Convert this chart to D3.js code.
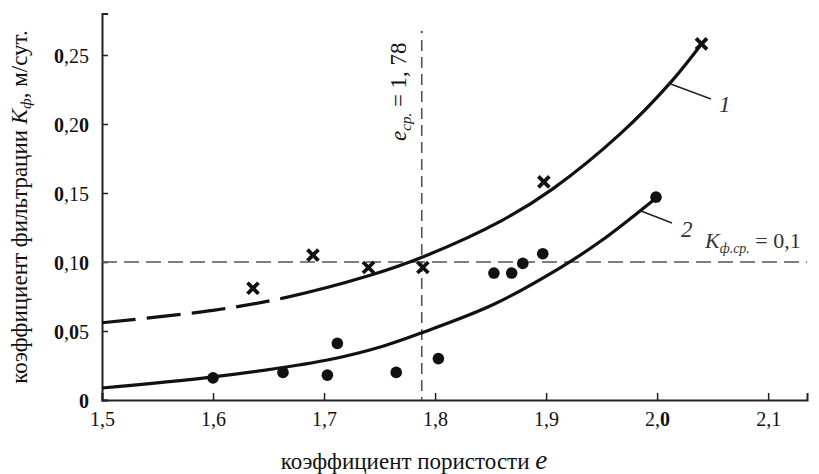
<!DOCTYPE html>
<html>
<head>
  <meta charset="utf-8">
</head>
<body style="margin:0; background:#fff">
  <svg width="819" height="474"></svg>
  <script src="https://cdn.jsdelivr.net/npm/d3@7"></script>
  <script>

  // tick values
  var xTicks = [1.5, 1.6, 1.7, 1.8, 1.9, 2.0, 2.1];
  var yTicks = [0, 0.05, 0.10, 0.15, 0.20, 0.25];

  // measured points, series 1 (crosses)
  var crossE = [1.636, 1.690, 1.740, 1.789, 1.898, 2.040];
  var crossK = [0.081, 0.105, 0.096, 0.096, 0.158, 0.258];

  // measured points, series 2 (dots)
  var dotE = [1.600, 1.663, 1.703, 1.712, 1.765, 1.803, 1.853, 1.869, 1.879, 1.897, 1.999];
  var dotK = [0.016, 0.020, 0.018, 0.041, 0.020, 0.030, 0.092, 0.092, 0.099, 0.106, 0.147];

  // fitted curves
  var fit1E = [1.50, 1.60, 1.664, 1.74, 1.79, 1.86, 1.906, 1.967, 2.012, 2.040];
  var fit1K = [0.056, 0.065, 0.074, 0.090, 0.104, 0.130, 0.153, 0.193, 0.230, 0.258];
  var fit1DashEnd = 1.664;

  var fit2E = [1.50, 1.60, 1.703, 1.753, 1.789, 1.852, 1.913, 1.949, 2.000];
  var fit2K = [0.0087, 0.0167, 0.029, 0.039, 0.049, 0.069, 0.096, 0.115, 0.147];

  var eMean = 1.788;   // e ср. = 1,78
  var kMean = 0.10;    // K ф.ср. = 0,1

  var FONT = "Liberation Serif";
  var svg = d3.select("svg");

  var x = d3.scaleLinear().domain([1.5, 2.135]).range([102, 807]);
  var y = d3.scaleLinear().domain([0, 0.28]).range([400, 13.6]);

  var fmt = function(v) { return d3.format(".2f")(v).replace(".", ","); };

  // axes
  var gx = svg.append("g").attr("transform", "translate(0,400)")
    .call(d3.axisBottom(x).tickValues(xTicks).tickSize(-7).tickPadding(12)
      .tickFormat(function(d) { return d3.format(".1f")(d).replace(".", ","); }));
  var gy = svg.append("g").attr("transform", "translate(102,0)")
    .call(d3.axisLeft(y).tickValues(yTicks).tickSize(-6).tickPadding(13)
      .tickFormat(function(d) { return d === 0 ? "0" : fmt(d); }));

  [gx, gy].forEach(function(g) {
    g.attr("font-family", FONT).attr("font-size", 20);
    g.select(".domain").attr("stroke", "#222").attr("stroke-width", 2);
    g.selectAll(".tick line").attr("stroke", "#222").attr("stroke-width", 1.5);
    g.selectAll(".tick text")
      .attr("fill", "#111")
      .each(function() {
        // zeros in the scanned labels appear as heavy black glyphs
        var t = d3.select(this), s = t.text();
        t.text(null);
        s.split("").forEach(function(ch) {
          t.append("tspan").text(ch).attr("font-weight", ch === "0" ? "bold" : "normal");
        });
      });
  });
  gy.selectAll(".tick text").attr("dy", "0.36em");

  // guide lines
  svg.append("line")
    .attr("x1", x(1.5)).attr("x2", x(2.135))
    .attr("y1", y(kMean)).attr("y2", y(kMean))
    .attr("stroke", "#555").attr("stroke-width", 1.6).attr("stroke-dasharray", "15,7");
  svg.append("line")
    .attr("x1", x(eMean)).attr("x2", x(eMean))
    .attr("y1", 40).attr("y2", 400)
    .attr("stroke", "#555").attr("stroke-width", 1.6).attr("stroke-dasharray", "11,6");
  svg.append("circle").attr("cx", x(eMean)).attr("cy", 32).attr("r", 1.2).attr("fill", "#555");

  // fitted curves
  var line = d3.line()
    .curve(d3.curveCatmullRom.alpha(0.5))
    .x(function(d) { return x(d[0]); })
    .y(function(d) { return y(d[1]); });

  var fit1 = d3.zip(fit1E, fit1K);
  var fit2 = d3.zip(fit2E, fit2K);

  var defs = svg.append("defs");
  defs.append("clipPath").attr("id", "clipL").append("rect")
    .attr("x", 0).attr("y", 0).attr("width", x(fit1DashEnd)).attr("height", 474);
  defs.append("clipPath").attr("id", "clipR").append("rect")
    .attr("x", x(fit1DashEnd)).attr("y", 0).attr("width", 819).attr("height", 474);

  function fitPath(data) {
    return svg.append("path").attr("d", line(data))
      .attr("fill", "none").attr("stroke", "#111").attr("stroke-width", 3.2);
  }
  fitPath(fit1).attr("clip-path", "url(#clipL)").attr("stroke-dasharray", "34,11");
  fitPath(fit1).attr("clip-path", "url(#clipR)");
  fitPath(fit2);

  // markers
  svg.selectAll(".cross").data(d3.zip(crossE, crossK)).enter().append("path")
    .attr("class", "cross")
    .attr("transform", function(d) { return "translate(" + x(d[0]) + "," + y(d[1]) + ")"; })
    .attr("d", "M-5.5,-5.5L5.5,5.5M-5.5,5.5L5.5,-5.5")
    .attr("stroke", "#111").attr("stroke-width", 3.8).attr("fill", "none");

  svg.selectAll(".dot").data(d3.zip(dotE, dotK)).enter().append("circle")
    .attr("class", "dot")
    .attr("cx", function(d) { return x(d[0]); })
    .attr("cy", function(d) { return y(d[1]); })
    .attr("r", 5.8)
    .attr("fill", "#111");

  // curve labels with leaders
  svg.append("line").attr("x1", 668).attr("y1", 83).attr("x2", 711).attr("y2", 99)
    .attr("stroke", "#222").attr("stroke-width", 1.5);
  svg.append("text").attr("x", 719).attr("y", 112).attr("font-size", 23)
    .attr("font-style", "italic").attr("fill", "#333").text("1");

  svg.append("line").attr("x1", 641).attr("y1", 211).attr("x2", 672).attr("y2", 223)
    .attr("stroke", "#222").attr("stroke-width", 1.5);
  svg.append("text").attr("x", 681).attr("y", 237).attr("font-size", 23)
    .attr("font-style", "italic").attr("fill", "#333").text("2");

  var kLab = svg.append("text").attr("x", 705).attr("y", 248).attr("font-size", 22).attr("fill", "#333");
  kLab.append("tspan").attr("font-style", "italic").text("K");
  kLab.append("tspan").attr("dy", 5).attr("font-size", 14).attr("font-style", "italic").text("ф.ср.");
  kLab.append("tspan").attr("dy", -5).text(" = 0,1");

  var eLab = svg.append("text")
    .attr("transform", "translate(406,141) rotate(-90)")
    .attr("font-size", 23).attr("fill", "#111");
  eLab.append("tspan").attr("font-style", "italic").text("e");
  eLab.append("tspan").attr("dy", 5).attr("font-size", 15).attr("font-style", "italic").text("ср.");
  eLab.append("tspan").attr("dy", -5).text(" = 1, 78");

  // axis titles
  var xt = svg.append("text").attr("x", 414).attr("y", 469)
    .attr("text-anchor", "middle").attr("font-size", 23).attr("fill", "#111");
  xt.append("tspan").text("коэффициент пористости ");
  xt.append("tspan").attr("font-style", "italic").attr("font-size", 27).text("e");

  var yt = svg.append("text")
    .attr("transform", "translate(27,207) rotate(-90)")
    .attr("text-anchor", "middle").attr("font-size", 23).attr("fill", "#111");
  yt.append("tspan").text("коэффициент фильтрации ");
  yt.append("tspan").attr("font-style", "italic").text("K");
  yt.append("tspan").attr("dy", 4).attr("font-size", 15).attr("font-style", "italic").text("ф");
  yt.append("tspan").attr("dy", -4).text(", м/сут.");

  // serif face on every text and tspan
  svg.selectAll("text, tspan").attr("font-family", FONT);

  </script>
</body>
</html>
